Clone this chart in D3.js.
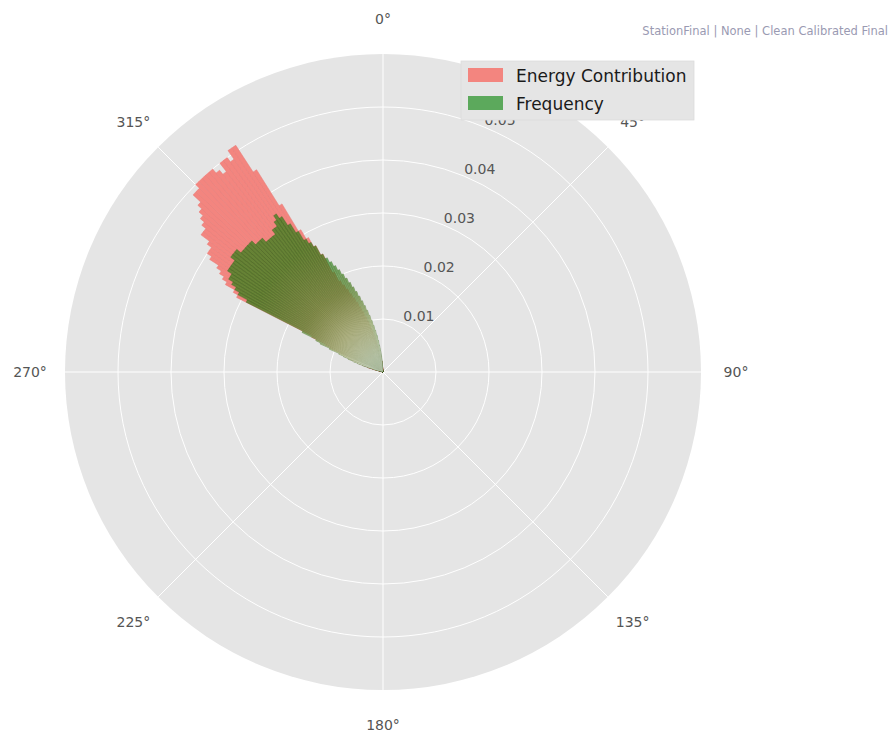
<!DOCTYPE html>
<html>
<head>
	<script src="https://d3js.org/d3.v7.min.js"></script>
	<title>Rose</title>
	<style>
		body { margin: 0; background: #fff; }
		text { font-family: "DejaVu Sans", sans-serif; }
	</style>
</head>
<body>
	<svg id="SVG" width="896" height="736"></svg>
	<script>
		// direction bins (degrees, bin centres, 1 degree wide)
		var binAngles = [285.5, 286.5, 287.5, 288.5, 289.5, 290.5, 291.5, 292.5, 293.5, 294.5,
			295.5, 296.5, 297.5, 298.5, 299.5, 300.5, 301.5, 302.5, 303.5, 304.5,
			305.5, 306.5, 307.5, 308.5, 309.5, 310.5, 311.5, 312.5, 313.5, 314.5,
			315.5, 316.5, 317.5, 318.5, 319.5, 320.5, 321.5, 322.5, 323.5, 324.5,
			325.5, 326.5, 327.5, 328.5, 329.5, 330.5, 331.5, 332.5, 333.5, 334.5,
			335.5, 336.5, 337.5, 338.5, 339.5, 340.5, 341.5, 342.5, 343.5, 344.5,
			345.5, 346.5, 347.5, 348.5, 349.5, 350.5, 351.5, 352.5, 353.5, 354.5, 355.5];
		var energy = [0.002, 0.003, 0.003, 0.004, 0.005, 0.006, 0.007, 0.008, 0.009, 0.011,
			0.012, 0.015, 0.031, 0.032, 0.034, 0.035, 0.036, 0.037, 0.039, 0.040,
			0.040, 0.041, 0.043, 0.043, 0.044, 0.045, 0.046, 0.047, 0.049, 0.049,
			0.050, 0.050, 0.050, 0.050, 0.050, 0.049, 0.048, 0.050, 0.050, 0.049,
			0.051, 0.051, 0.045, 0.037, 0.031, 0.029, 0.027, 0.025, 0.021, 0.019,
			0.018, 0.017, 0.016, 0.015, 0.014, 0.013, 0.012, 0.011, 0.010, 0.009,
			0.008, 0.007, 0.006, 0.005, 0.005, 0.004, 0.003, 0.003, 0.002, 0.002, 0.001];
		var frequency = [0.002, 0.003, 0.004, 0.005, 0.006, 0.007, 0.008, 0.009, 0.011, 0.013,
			0.014, 0.017, 0.029, 0.031, 0.032, 0.033, 0.034, 0.034, 0.035, 0.035,
			0.035, 0.035, 0.036, 0.036, 0.036, 0.035, 0.035, 0.035, 0.035, 0.035,
			0.034, 0.034, 0.034, 0.033, 0.033, 0.033, 0.033, 0.034, 0.034, 0.035,
			0.036, 0.035, 0.033, 0.031, 0.029, 0.028, 0.027, 0.025, 0.024, 0.023,
			0.022, 0.021, 0.020, 0.019, 0.018, 0.017, 0.016, 0.015, 0.014, 0.013,
			0.012, 0.011, 0.010, 0.009, 0.008, 0.007, 0.006, 0.005, 0.004, 0.003, 0.002];
		var binWidth = 1;
		var rTicks = [0.01, 0.02, 0.03, 0.04, 0.05];
		var rMax = 0.06;
		var thetaTicks = [0, 45, 90, 135, 180, 225, 270, 315];
		var seriesNames = ["Energy Contribution", "Frequency"];
		var titleText = "StationFinal | None | Clean Calibrated Final";

		var svg = d3.select("#SVG");
		var cx = 383, cy = 372, R = 318;

		var rScale = d3.scaleLinear().domain([0, rMax]).range([0, R]);
		var aScale = d3.scaleLinear().domain([0, 360]).range([0, 2 * Math.PI]);

		var defs = svg.append("defs");
		var fade = defs.append("radialGradient").attr("id", "fade")
			.attr("gradientUnits", "userSpaceOnUse")
			.attr("cx", 0).attr("cy", 0).attr("r", 145);
		[[0, "#eef2ec", 1], [0.12, "#e8ebe0", 0.95], [0.35, "#d9cfac", 0.72],
		 [0.62, "#bca574", 0.35], [1, "#a89060", 0]].forEach(function(s) {
			fade.append("stop").attr("offset", s[0]).attr("stop-color", s[1]).attr("stop-opacity", s[2]);
		});

		var g = svg.append("g").attr("transform", "translate(" + cx + "," + cy + ")");

		// background disc
		g.append("circle").attr("r", R).attr("fill", "#e5e5e5");

		// grid
		g.selectAll("circle.ring").data(rTicks).enter()
			.append("circle").attr("class", "ring")
			.attr("r", d => rScale(d))
			.attr("fill", "none").attr("stroke", "#fff").attr("stroke-width", 1);
		g.selectAll("line.spoke").data(thetaTicks).enter()
			.append("line").attr("class", "spoke")
			.attr("x1", 0).attr("y1", 0)
			.attr("x2", d => R * Math.sin(aScale(d)))
			.attr("y2", d => -R * Math.cos(aScale(d)))
			.attr("stroke", "#fff").attr("stroke-width", 1);

		var arc = d3.arc().innerRadius(0);
		function wedge(a, v) {
			return arc({ startAngle: aScale(a - binWidth / 2), endAngle: aScale(a + binWidth / 2), outerRadius: rScale(v) });
		}

		// Energy bars
		g.selectAll("path.energy").data(binAngles).enter()
			.append("path").attr("class", "energy")
			.attr("d", (d, i) => wedge(d, energy[i]))
			.attr("fill", "#f3857f")
			.attr("stroke", "#e77a76").attr("stroke-width", 0.5);

		// Frequency bars
		g.selectAll("path.freq").data(binAngles).enter()
			.append("path").attr("class", "freq")
			.attr("d", (d, i) => wedge(d, frequency[i]))
			.attr("fill", "#008000").attr("fill-opacity", 0.58)
			.attr("stroke", "#3f5c1c").attr("stroke-width", 0.5).attr("stroke-opacity", 0.55);

		// pale fade near the centre
		g.selectAll("path.fade").data(binAngles).enter()
			.append("path").attr("class", "fade")
			.attr("d", (d, i) => wedge(d, Math.max(energy[i], frequency[i])))
			.attr("fill", "url(#fade)");

		// radial tick labels at 22.5 deg
		g.selectAll("text.rlab").data(rTicks).enter()
			.append("text").attr("class", "rlab")
			.attr("x", d => rScale(d) * Math.sin(aScale(22.5)))
			.attr("y", d => -rScale(d) * Math.cos(aScale(22.5)) - 2)
			.attr("font-size", 14).attr("fill", "#555")
			.text(d => d.toFixed(2));

		// angle labels
		g.selectAll("text.alab").data(thetaTicks).enter()
			.append("text").attr("class", "alab")
			.attr("x", d => 353 * Math.sin(aScale(d)))
			.attr("y", d => -353 * Math.cos(aScale(d)))
			.attr("text-anchor", "middle").attr("dominant-baseline", "central")
			.attr("font-size", 14).attr("fill", "#555")
			.text(d => d + "\u00b0");

		// legend
		var leg = svg.append("g").attr("transform", "translate(461,61)");
		leg.append("rect").attr("width", 233).attr("height", 59)
			.attr("fill", "#e5e5e5").attr("stroke", "#dcdcdc").attr("stroke-width", 0.8);
		var legColors = [["#f3857f", 1], ["#008000", 0.6]];
		seriesNames.forEach(function(name, i) {
			leg.append("rect").attr("x", 7).attr("y", 7 + i * 28).attr("width", 35).attr("height", 14)
				.attr("fill", legColors[i][0]).attr("fill-opacity", legColors[i][1]);
			leg.append("text").attr("x", 55).attr("y", 21 + i * 28)
				.attr("font-size", 17).attr("fill", "#1a1a1a").text(name);
		});

		// title
		svg.append("text").attr("x", 888).attr("y", 35)
			.attr("text-anchor", "end")
			.attr("font-family", "'Open Sans', sans-serif")
			.attr("font-size", 11.5).attr("fill", "#9a9ab2")
			.text(titleText);
	</script>
</body>
</html>
